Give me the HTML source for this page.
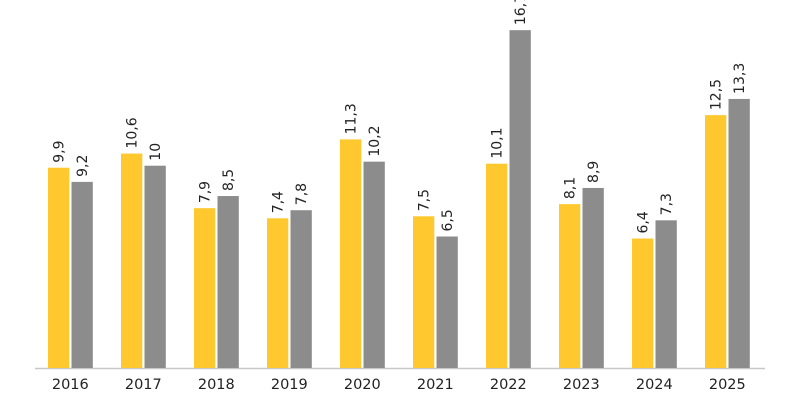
<!DOCTYPE html>
<html><head><meta charset="utf-8"><style>
html,body{margin:0;padding:0;background:#fff;width:800px;height:400px;overflow:hidden}
svg{display:block}
text{font-family:"DejaVu Sans","Liberation Sans",sans-serif;fill:#222}
</style></head><body>
<svg width="800" height="400" viewBox="0 0 800 400">
<line x1="35" y1="368.5" x2="765" y2="368.5" stroke="#c8c8c8" stroke-width="1.5"/>
<g id="g"></g>
</svg>
<script>
const y=[9.9,10.6,7.9,7.4,11.3,7.5,10.1,8.1,6.4,12.5];
const g=[9.2,10,8.5,7.8,10.2,6.5,16.7,8.9,7.3,13.3];
const base=368,s=20.23;let h='';
for(let i=0;i<10;i++){
 const x0=48+i*73.0;
 [[y[i],x0,'#FFC82E'],[g[i],x0+23.5,'#8C8C8C']].forEach(([v,x,c])=>{
  const t=base-v*s;
  h+=`<rect x="${x}" y="${t}" width="21.3" height="${base-t}" fill="${c}"/>`;
  const cx=x+10.6+5;
  h+=`<text x="0" y="0" font-size="14" transform="translate(${cx},${t-5}) rotate(-90)">${String(v).replace('.',',')}</text>`;
 });
 h+=`<text x="${x0+22.3}" y="389" font-size="14.5" text-anchor="middle">${2016+i}</text>`;
}
document.getElementById('g').innerHTML=h;
</script>
</body></html>
